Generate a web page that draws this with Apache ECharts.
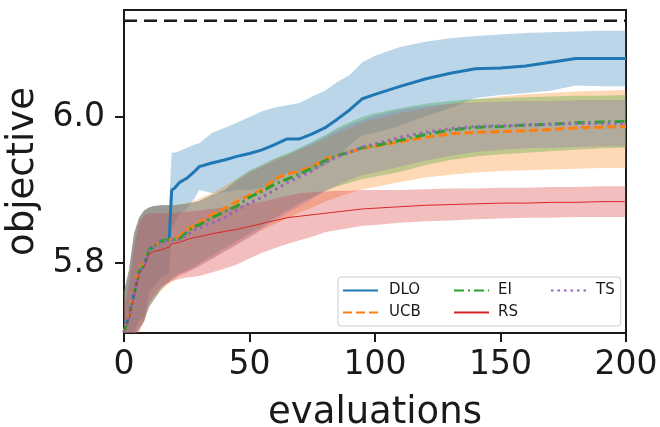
<!DOCTYPE html>
<html>
<head>
<meta charset="utf-8">
<script src="https://cdn.jsdelivr.net/npm/echarts@6/dist/echarts.min.js"></script>
<style>html,body{margin:0;padding:0;background:#fff;}#chart{width:660px;height:427px;}</style>
</head>
<body>
<div id="chart"></div>
<script>
const evals = [0,2,4,6,8,10,12,15,18,19,20,22,25,28,30,35,40,45,50,55,60,65,70,75,80,85,90,95,100,110,120,130,140,150,160,170,180,190,200];

const dloMean = [5.705,5.728,5.758,5.788,5.797,5.818,5.823,5.830,5.832,5.900,5.902,5.910,5.916,5.925,5.932,5.937,5.941,5.946,5.950,5.955,5.962,5.970,5.970,5.977,5.985,5.997,6.010,6.025,6.031,6.042,6.052,6.060,6.066,6.067,6.070,6.075,6.080,6.080,6.080];
const dloHigh = [5.760,5.790,5.840,5.862,5.872,5.876,5.878,5.879,5.879,5.951,5.951,5.953,5.958,5.962,5.964,5.978,5.985,5.992,6.000,6.008,6.013,6.016,6.019,6.028,6.036,6.048,6.058,6.075,6.084,6.096,6.103,6.108,6.111,6.113,6.115,6.116,6.117,6.118,6.118];
const dloLow = [5.700,5.700,5.705,5.720,5.725,5.760,5.768,5.780,5.785,5.849,5.853,5.867,5.874,5.888,5.900,5.896,5.897,5.900,5.900,5.902,5.911,5.924,5.921,5.926,5.934,5.946,5.962,5.975,5.978,5.988,6.001,6.012,6.026,6.030,6.033,6.036,6.043,6.042,6.042];

const ucbMean = [5.705,5.730,5.760,5.790,5.800,5.818,5.823,5.830,5.832,5.832,5.833,5.836,5.845,5.852,5.855,5.866,5.875,5.884,5.893,5.900,5.915,5.922,5.926,5.932,5.942,5.947,5.952,5.957,5.960,5.966,5.972,5.977,5.979,5.980,5.981,5.983,5.985,5.986,5.987];
const ucbHigh = [5.760,5.790,5.840,5.862,5.872,5.876,5.878,5.879,5.879,5.879,5.879,5.880,5.882,5.885,5.888,5.896,5.905,5.915,5.925,5.933,5.942,5.948,5.955,5.962,5.970,5.978,5.985,5.992,5.997,6.005,6.012,6.018,6.024,6.028,6.031,6.033,6.035,6.036,6.037];
const ucbLow = [5.700,5.700,5.700,5.710,5.720,5.740,5.750,5.763,5.772,5.775,5.777,5.782,5.787,5.792,5.797,5.806,5.816,5.826,5.836,5.845,5.853,5.861,5.869,5.876,5.884,5.890,5.896,5.901,5.904,5.911,5.917,5.921,5.924,5.926,5.927,5.928,5.929,5.930,5.930];

const eiMean = [5.705,5.728,5.758,5.788,5.797,5.818,5.823,5.830,5.832,5.832,5.832,5.833,5.842,5.850,5.852,5.862,5.870,5.878,5.890,5.898,5.908,5.915,5.922,5.930,5.940,5.947,5.952,5.958,5.961,5.968,5.976,5.982,5.986,5.987,5.989,5.990,5.992,5.993,5.994];
const eiHigh = [5.760,5.790,5.840,5.862,5.872,5.876,5.878,5.879,5.879,5.879,5.879,5.880,5.881,5.883,5.885,5.893,5.900,5.915,5.927,5.935,5.943,5.950,5.958,5.966,5.975,5.985,5.993,6.000,6.005,6.012,6.018,6.022,6.025,6.026,6.027,6.028,6.029,6.029,6.030];
const eiLow = [5.700,5.700,5.700,5.710,5.720,5.740,5.750,5.765,5.775,5.778,5.780,5.785,5.790,5.795,5.800,5.810,5.820,5.830,5.840,5.850,5.862,5.872,5.882,5.890,5.899,5.905,5.910,5.915,5.918,5.925,5.934,5.941,5.946,5.949,5.951,5.953,5.955,5.957,5.958];

const rsMean = [5.705,5.725,5.755,5.785,5.795,5.812,5.816,5.818,5.822,5.826,5.827,5.828,5.832,5.835,5.836,5.840,5.843,5.846,5.850,5.854,5.858,5.862,5.864,5.866,5.868,5.870,5.872,5.874,5.875,5.877,5.879,5.880,5.881,5.882,5.882,5.883,5.883,5.884,5.884];
const rsHigh = [5.740,5.770,5.820,5.855,5.865,5.868,5.868,5.868,5.868,5.868,5.868,5.869,5.870,5.871,5.872,5.874,5.876,5.878,5.881,5.884,5.888,5.892,5.895,5.897,5.898,5.899,5.899,5.900,5.900,5.900,5.901,5.902,5.902,5.903,5.903,5.904,5.904,5.905,5.905];
const rsLow = [5.700,5.700,5.700,5.705,5.720,5.745,5.755,5.768,5.773,5.775,5.776,5.778,5.780,5.781,5.782,5.787,5.792,5.798,5.806,5.814,5.820,5.826,5.831,5.836,5.842,5.845,5.848,5.851,5.852,5.855,5.857,5.858,5.860,5.861,5.862,5.862,5.863,5.863,5.863];

const tsMean = [5.705,5.728,5.757,5.787,5.796,5.816,5.822,5.829,5.831,5.831,5.831,5.832,5.838,5.845,5.848,5.855,5.862,5.872,5.882,5.890,5.900,5.910,5.918,5.926,5.937,5.945,5.952,5.959,5.963,5.972,5.979,5.984,5.987,5.988,5.989,5.990,5.991,5.991,5.991];
const tsHigh = [5.760,5.790,5.840,5.862,5.872,5.876,5.878,5.879,5.879,5.879,5.879,5.880,5.881,5.883,5.885,5.893,5.900,5.912,5.924,5.932,5.940,5.948,5.956,5.964,5.973,5.982,5.990,5.996,6.002,6.010,6.015,6.018,6.020,6.021,6.022,6.022,6.023,6.023,6.023];
const tsLow = [5.700,5.700,5.700,5.710,5.720,5.740,5.750,5.765,5.775,5.778,5.780,5.784,5.788,5.792,5.795,5.805,5.815,5.825,5.835,5.847,5.858,5.868,5.878,5.888,5.898,5.906,5.914,5.920,5.924,5.932,5.940,5.947,5.952,5.955,5.957,5.958,5.959,5.960,5.960];

const optimum = 6.132;
const yTicks = [5.8, 6.0];
const xTicks = [0, 50, 100, 150, 200];

const FONT = 'DejaVu Sans';
const TXT = '#1a1a1a';

const methods = [
  {name:'DLO', mean:dloMean, low:dloLow, high:dloHigh, color:'#1f77b4', band:'rgba(31,119,180,0.3)', width:3, type:'solid'},
  {name:'UCB', mean:ucbMean, low:ucbLow, high:ucbHigh, color:'#ff7f0e', band:'rgba(255,127,14,0.3)', width:3, type:[9,4]},
  {name:'EI', mean:eiMean, low:eiLow, high:eiHigh, color:'#2ca02c', band:'rgba(44,160,44,0.3)', width:3, type:[10,4,2,4]},
  {name:'RS', mean:rsMean, low:rsLow, high:rsHigh, color:'#d62728', band:'rgba(214,39,40,0.3)', width:1, type:'solid'},
  {name:'TS', mean:tsMean, low:tsLow, high:tsHigh, color:'#9467bd', band:'rgba(148,103,189,0.3)', width:3, type:[2.5,4]}
];

const series = [];
methods.forEach(m => {
  series.push({
    type:'custom', name: m.name + ' band', silent:true, clip:true,
    data: evals.map((x,i)=>[x, m.low[i], m.high[i]]),
    encode:{x:0, y:[1,2]},
    renderItem: function(params, api){
      if (params.dataIndex !== 0) return null;
      const pts = [];
      for (let i=0;i<evals.length;i++) pts.push(api.coord([evals[i], m.high[i]]));
      for (let i=evals.length-1;i>=0;i--) pts.push(api.coord([evals[i], m.low[i]]));
      return {type:'polygon', shape:{points:pts}, style:{fill:m.band, stroke:null}};
    },
    z:1
  });
});
methods.forEach(m => {
  series.push({
    type:'line', name:m.name, symbol:'none', showSymbol:false, clip:true,
    data: evals.map((x,i)=>[x, m.mean[i]]),
    lineStyle:{color:m.color, width:m.width, type:m.type, cap:'butt'},
    itemStyle:{color:m.color},
    z:3
  });
});
series.push({
  type:'line', name:'optimum', symbol:'none', silent:true,
  data:[[0, optimum],[200, optimum]],
  lineStyle:{color:'#1a1a1a', width:2.5, type:[13,7]}, z:3
});

const legendText = (w, pl) => ({width:w, padding:[0,0,0,pl]});

const chart = echarts.init(document.getElementById('chart'), null, {renderer:'canvas'});
chart.setOption({
  animation:false,
  backgroundColor:'#ffffff',
  grid:{left:124, right:34, top:10, bottom:94, show:true, borderColor:'#1a1a1a', borderWidth:2, backgroundColor:'transparent', containLabel:false, outerBoundsMode:'none'},
  xAxis:{
    type:'value', min:0, max:200, interval:50,
    name:'evaluations', nameLocation:'middle', nameGap:62,
    nameTextStyle:{fontFamily:FONT, fontSize:37, color:TXT},
    axisLine:{show:false},
    axisTick:{show:true, inside:false, length:9, lineStyle:{color:'#1a1a1a', width:2}},
    axisLabel:{fontFamily:FONT, fontSize:33, color:TXT, margin:16},
    splitLine:{show:false}
  },
  yAxis:{
    type:'value', min:5.704, max:6.1466,
    name:'objective', nameLocation:'middle', nameGap:71,
    nameTextStyle:{fontFamily:FONT, fontSize:37, color:TXT},
    axisLine:{show:false},
    axisTick:{show:true, inside:false, length:9, lineStyle:{color:'#1a1a1a', width:2}, customValues:yTicks},
    axisLabel:{fontFamily:FONT, fontSize:33, color:TXT, margin:19, customValues:yTicks, formatter:v=>v.toFixed(1)},
    splitLine:{show:false}
  },
  legend:{
    left:338, top:277, orient:'horizontal', width:300,
    padding:[5,6,5,4],
    itemWidth:35, itemHeight:12, itemGap:5,
    itemStyle:{color:'rgba(0,0,0,0)', borderColor:'rgba(0,0,0,0)', borderWidth:0, opacity:0},
    backgroundColor:'rgba(255,255,255,0.8)', borderColor:'#cccccc', borderWidth:1, borderRadius:3,
    textStyle:{fontFamily:FONT, fontSize:15, color:TXT, lineHeight:17},
    data:[
      {name:'DLO', textStyle:legendText(59,6)},
      {name:'EI', textStyle:legendText(47,4)},
      {name:'TS', textStyle:{padding:[0,0,0,5]}},
      {name:'UCB', textStyle:legendText(59,6)},
      {name:'RS', textStyle:legendText(47,4)}
    ]
  },
  series: series
});
</script>
</body>
</html>
